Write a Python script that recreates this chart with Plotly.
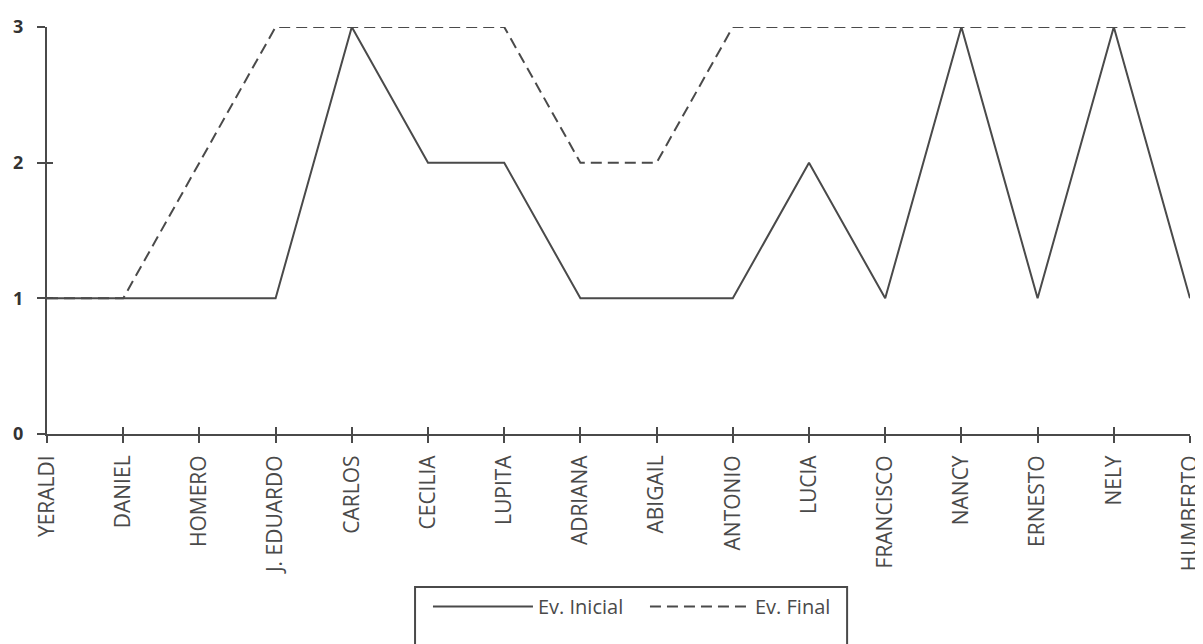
import plotly.graph_objects as go

names = ["YERALDI", "DANIEL", "HOMERO", "J. EDUARDO", "CARLOS", "CECILIA", "LUPITA",
         "ADRIANA", "ABIGAIL", "ANTONIO", "LUCIA", "FRANCISCO", "NANCY", "ERNESTO",
         "NELY", "HUMBERTO"]
ev_inicial = [1, 1, 1, 1, 3, 2, 2, 1, 1, 1, 2, 1, 3, 1, 3, 1]
ev_final = [1, 1, 2, 3, 3, 3, 3, 2, 2, 3, 3, 3, 3, 3, 3, 3]
y_ticks = [0, 1, 2, 3]

ink = "#4a4a4a"
fig = go.Figure()
fig.add_trace(go.Scatter(x=names, y=ev_inicial, mode="lines", name="Ev. Inicial",
                         line=dict(color=ink, width=2), cliponaxis=False))
fig.add_trace(go.Scatter(x=names, y=ev_final, mode="lines", name="Ev. Final",
                         line=dict(color=ink, width=2, dash="11px,6px"), cliponaxis=False))
# invisible trace carrying the overlay axes that draw the inner half of the crossing ticks
fig.add_trace(go.Scatter(x=names, y=ev_inicial, xaxis="x2", yaxis="y2", mode="lines",
                         line=dict(width=0), showlegend=False, hoverinfo="skip", opacity=0))

fig.update_layout(
    width=1195, height=636,
    margin=dict(l=39, r=13, t=19, b=210, autoexpand=False),
    paper_bgcolor="white", plot_bgcolor="white",
    font=dict(family="Open Sans, sans-serif", color=ink, size=15),
    xaxis=dict(type="category", categoryorder="array", categoryarray=names,
               range=[0, 15], showgrid=False, zeroline=False, automargin=False,
               showline=True, linecolor=ink, linewidth=2,
               ticks="outside", ticklen=7, tickwidth=2, tickcolor=ink,
               ticklabeloverflow="allow", ticklabelstandoff=4,
               tickangle=-90, tickfont=dict(size=21, color=ink)),
    xaxis2=dict(type="category", categoryorder="array", categoryarray=names,
                range=[0, 15], overlaying="x", side="bottom", anchor="y",
                showgrid=False, zeroline=False, showline=False, automargin=False,
                ticks="inside", ticklen=7, tickwidth=2, tickcolor=ink,
                showticklabels=False),
    yaxis=dict(range=[0, 3], tickvals=y_ticks, showgrid=False, zeroline=False,
               automargin=False,
               showline=True, linecolor=ink, linewidth=2,
               ticks="outside", ticklen=8, tickwidth=2, tickcolor=ink,
               tickfont=dict(size=18, color="#333", weight="bold"), ticklabelstandoff=10),
    yaxis2=dict(range=[0, 3], tickvals=y_ticks, overlaying="y", side="left", anchor="x",
                showgrid=False, zeroline=False, showline=False, automargin=False,
                ticks="inside", ticklen=6, tickwidth=2, tickcolor=ink,
                showticklabels=False),
    legend=dict(orientation="h", x=0.3333, xanchor="left", y=-0.376, yanchor="top",
                bgcolor="rgba(0,0,0,0)", borderwidth=0, itemwidth=100, entrywidth=102,
                font=dict(size=20, color=ink)),
    shapes=[dict(type="rect", xref="paper", yref="paper",
                 x0=0.322, x1=0.700, y0=-0.56, y1=-0.376,
                 line=dict(color=ink, width=2), fillcolor="rgba(0,0,0,0)")],
    showlegend=True,
)

fig.write_html("out.html")
